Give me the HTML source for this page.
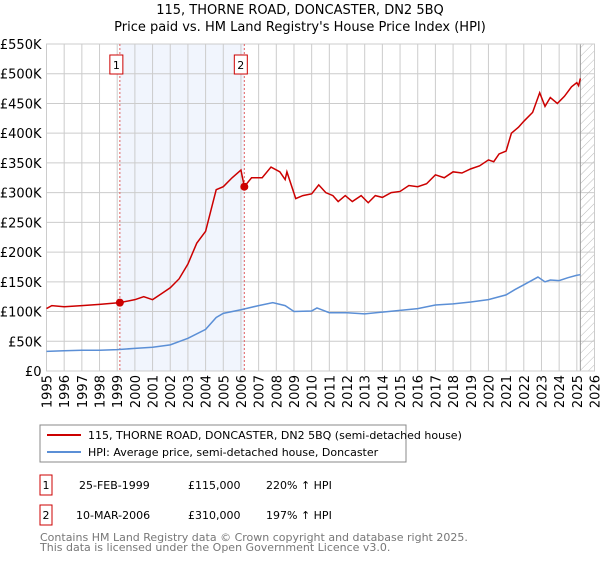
<!DOCTYPE html>
<html><head><meta charset="utf-8"><style>
body{margin:0;background:#fff;font-family:"Liberation Sans","DejaVu Sans",sans-serif;}
svg text{font-family:"DejaVu Sans","Liberation Sans",sans-serif;}
</style></head><body>
<svg id="c" width="600" height="560" xmlns="http://www.w3.org/2000/svg">
<defs><pattern id="hatch" width="6" height="6" patternUnits="userSpaceOnUse" patternTransform="rotate(45)"><line x1="0" y1="0" x2="0" y2="6" stroke="#bbb" stroke-width="1"/></pattern></defs>
<text x="300" y="14" text-anchor="middle" font-size="13">115, THORNE ROAD, DONCASTER, DN2 5BQ</text>
<text x="300" y="31" text-anchor="middle" font-size="13">Price paid vs. HM Land Registry's House Price Index (HPI)</text>
<g id="grid"></g><g id="marks"></g>
<rect x="40" y="425" width="366" height="37" fill="none" stroke="#888"/>
<line x1="47" y1="435" x2="81" y2="435" stroke="#cc0000" stroke-width="2"/>
<text x="88" y="439" font-size="11">115, THORNE ROAD, DONCASTER, DN2 5BQ (semi-detached house)</text>
<line x1="47" y1="452" x2="81" y2="452" stroke="#5b8fd6" stroke-width="2"/>
<text x="88" y="456" font-size="11">HPI: Average price, semi-detached house, Doncaster</text>
<g font-size="11">
<rect x="40" y="475" width="12" height="20" fill="none" stroke="#cc0000"/>
<text x="46" y="489" text-anchor="middle">1</text>
<text x="79" y="489">25-FEB-1999</text><text x="188" y="489">£115,000</text><text x="266" y="489">220% ↑ HPI</text>
<rect x="40" y="505" width="12" height="20" fill="none" stroke="#cc0000"/>
<text x="46" y="519" text-anchor="middle">2</text>
<text x="76" y="519">10-MAR-2006</text><text x="188" y="519">£310,000</text><text x="266" y="519">197% ↑ HPI</text>
</g>
<text x="40" y="541" font-size="11" fill="#777">Contains HM Land Registry data © Crown copyright and database right 2025.</text>
<text x="40" y="551" font-size="11" fill="#777">This data is licensed under the Open Government Licence v3.0.</text>
</svg>
<script>
const yTicks=[0,50,100,150,200,250,300,350,400,450,500,550];
const yearTicks=[1995,1996,1997,1998,1999,2000,2001,2002,2003,2004,2005,2006,2007,2008,2009,2010,2011,2012,2013,2014,2015,2016,2017,2018,2019,2020,2021,2022,2023,2024,2025,2026];
const hpiYears=[1995,1996,1997,1998,1999,2000,2001,2002,2003,2004,2004.6,2005,2006,2007,2007.8,2008.5,2009,2010,2010.3,2011,2012,2013,2014,2015,2016,2017,2018,2019,2020,2021,2021.5,2022,2022.8,2023.2,2023.5,2024,2024.5,2025,2025.2];
const hpiValues=[33,34,35,35,36,38,40,44,55,70,90,97,103,110,115,110,100,101,106,98,98,96,99,102,105,111,113,116,120,128,137,145,158,150,153,152,157,161,162];
const priceYears=[1995,1995.3,1996,1997,1998,1999.15,2000,2000.5,2001,2001.5,2002,2002.5,2003,2003.5,2004,2004.3,2004.6,2005,2005.5,2006,2006.19,2006.6,2007.2,2007.7,2008.2,2008.5,2008.6,2009.1,2009.5,2010,2010.4,2010.8,2011.2,2011.5,2011.9,2012.3,2012.8,2013.2,2013.6,2014,2014.5,2015,2015.5,2016,2016.5,2017,2017.5,2018,2018.5,2019,2019.5,2020,2020.3,2020.6,2021,2021.3,2021.7,2022,2022.5,2022.9,2023.2,2023.5,2023.9,2024.3,2024.7,2025,2025.1,2025.2];
const priceValues=[105,110,108,110,112,115,120,125,120,130,140,155,180,215,235,270,305,310,325,338,310,325,325,343,335,322,335,290,295,298,313,300,295,285,295,285,295,283,295,292,300,302,312,310,315,330,325,335,333,340,345,355,352,365,370,400,410,420,435,468,445,460,450,462,478,485,480,492];
const saleYears=[1999.15,2006.19];
const saleValues=[115,310];
const saleLabels=["1","2"];
const L=46.5,R=594.5,T=44,B=371,NS="http://www.w3.org/2000/svg";
const xs=y=>L+(y-1995)/(2026-1995)*(R-L);
const ys=v=>B-v/550*(B-T);
const grid=document.getElementById('grid'),marks=document.getElementById('marks');
function mk(tag,attrs,parent){const e=document.createElementNS(NS,tag);for(const k in attrs)e.setAttribute(k,attrs[k]);parent.appendChild(e);return e;}
let r=mk('rect',{x:L,y:T,width:R-L,height:B-T,fill:'#fff'},grid);


r=mk('rect',{x:xs(saleYears[0]),y:T,width:xs(saleYears[1])-xs(saleYears[0]),height:B-T,fill:'#eef3fc',opacity:0.8},grid);


yTicks.forEach(v=>{const l=mk('line',{x1:L,x2:R,y1:ys(v),y2:ys(v),stroke:'#ccc'},grid);


const t=mk('text',{x:L-5,y:ys(v)+5,'text-anchor':'end','font-size':13},grid);t.textContent=v===0?'£0':'£'+v+'K';

});
yearTicks.forEach(y=>{const l=mk('line',{x1:xs(y),x2:xs(y),y1:T,y2:B,stroke:'#ccc'},grid);


const t=mk('text',{x:xs(y)+5,y:B+4,'text-anchor':'end','font-size':13,transform:`rotate(-90 ${xs(y)+5} ${B+4})`},grid);t.textContent=y;

});
r=mk('rect',{x:xs(2025.2),y:T,width:R-xs(2025.2),height:B-T,fill:'url(#hatch)'},grid);


r=mk('line',{x1:xs(2025.2),x2:xs(2025.2),y1:T,y2:B,stroke:'#999'},grid);


mk('rect',{x:L,y:T,width:R-L,height:B-T,fill:'none',stroke:'#ccc'},grid);
saleYears.forEach((y,i)=>{const l=mk('line',{x1:xs(y),x2:xs(y),y1:T,y2:B,stroke:'#e06060','stroke-dasharray':'2,2'},marks);


const b=mk('rect',{x:xs(y)-10,y:55,width:13,height:19,fill:'#fff',stroke:'#cc0000'},marks);


const t=mk('text',{x:xs(y)-3.5,y:69,'text-anchor':'middle','font-size':11},marks);t.textContent=saleLabels[i];

});
function line(xa,va,color,name){const p=mk('polyline',{points:xa.map((y,i)=>xs(y)+','+ys(va[i])).join(' '),fill:'none',stroke:color,'stroke-width':1.5},marks);

}
line(hpiYears,hpiValues,'#5b8fd6','hpi-line');
line(priceYears,priceValues,'#cc0000','price-line');
saleYears.forEach((y,i)=>{const c=mk('circle',{cx:xs(y),cy:ys(saleValues[i]),r:4,fill:'#cc0000'},marks);

});
</script>
</body></html>
